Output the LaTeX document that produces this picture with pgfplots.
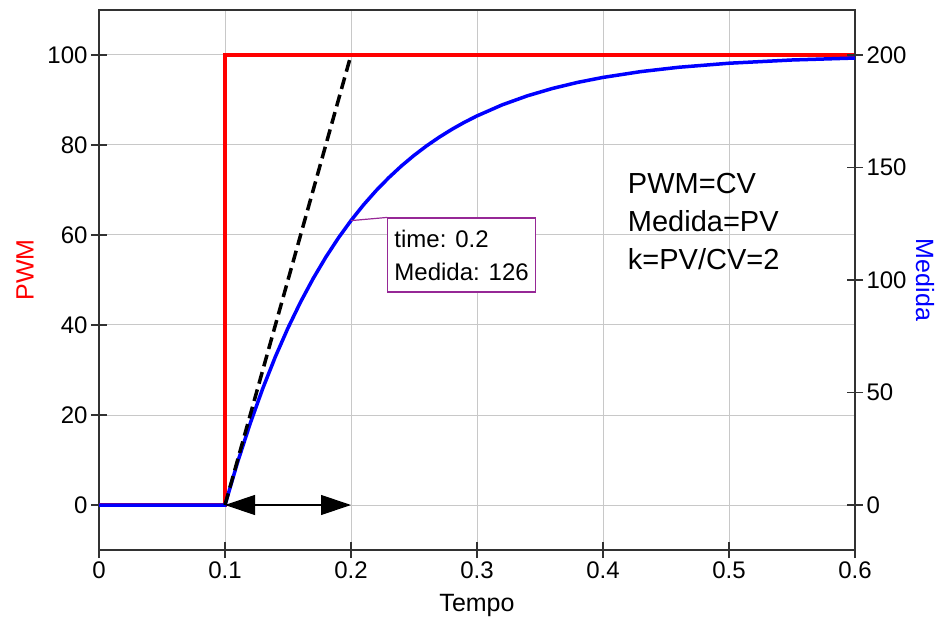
\documentclass[border=0pt]{standalone}
\usepackage{pgfplots}
\pgfplotsset{compat=1.18}
\usepackage{pgfplotstable}
\usepackage{fontspec}
\setmainfont{Liberation Sans}
\usetikzlibrary{arrows.meta}
\definecolor{gridgray}{RGB}{200,200,200}
\definecolor{axgray}{RGB}{50,50,50}
\definecolor{boxpurple}{RGB}{150,40,150}

\pgfplotstableread{
t pv
0 0
0.1 0
0.11 19.03
0.12 36.25
0.13 51.84
0.14 65.94
0.15 78.69
0.16 90.24
0.17 100.68
0.18 110.13
0.19 118.69
0.20 126.42
0.21 133.43
0.22 139.76
0.23 145.49
0.24 150.68
0.25 155.37
0.26 159.62
0.27 163.46
0.28 166.94
0.29 170.09
0.30 172.93
0.32 177.84
0.34 181.86
0.36 185.15
0.38 187.84
0.40 190.04
0.43 192.62
0.46 194.54
0.50 196.34
0.55 197.78
0.60 198.65
}\medida

\begin{document}
\begin{tikzpicture}
\pgfplotsset{
  common/.style={
    width=756pt, height=540pt, scale only axis,
    xmin=0, xmax=0.6,
    tick align=center, major tick length=16pt,
    every tick/.style={axgray, line width=1.2pt},
    axis line style={axgray, line width=1.5pt},
    ticklabel style={font=\fontsize{24}{28}\selectfont, black},
    /pgf/number format/assume math mode=true,
    label style={font=\fontsize{25}{29}\selectfont},
  }
}
\begin{axis}[common,
  ymin=-10, ymax=110,
  ytick={0,20,40,60,80,100},
  xtick={0,0.1,0.2,0.3,0.4,0.5,0.6},
  xticklabels={0,0.1,0.2,0.3,0.4,0.5,0.6},
  xtick pos=bottom, ytick pos=left,
  grid=major, grid style={gridgray, line width=1pt},
  xlabel={Tempo},
  xlabel style={at={(axis description cs:0.5,-0.102)}, anchor=center},
  ylabel={PWM},
  ylabel style={at={(axis description cs:-0.098,0.5185)}, anchor=center, rotate=0, red},
]
\addplot[red, line width=4.5pt, line join=miter] coordinates {(0,0) (0.1,0) (0.1,100) (0.6,100)};
\end{axis}
\begin{axis}[common,
  ymin=-20, ymax=220,
  ytick={0,50,100,150,200},
  axis y line*=right, axis x line=none,
  ylabel={Medida},
  ylabel style={at={(axis description cs:1.0926,0.5)}, anchor=center, rotate=180, blue},
]
\addplot[blue, line width=3.5pt] table[x=t, y=pv] {\medida};
\addplot[black, line width=3.5pt, dash pattern=on 12pt off 6pt] coordinates {(0.1,0) (0.2,200)};
\draw[{Triangle[length=30pt,width=20pt]}-{Triangle[length=30pt,width=20pt]}, line width=1.2pt] (axis cs:0.1,0) -- (axis cs:0.2,0);
\draw[boxpurple, line width=1.2pt] (axis cs:0.2,126.4) -- (axis cs:0.2286,127.8);
\node[draw=boxpurple, fill=white, line width=1.2pt, anchor=north west, minimum width=148pt, minimum height=74pt, inner sep=5pt, align=left, font=\fontsize{24}{33}\selectfont] at (axis cs:0.2286,127.8) {time: 0.2\\Medida: 126};
\node[anchor=base west, font=\fontsize{29}{33}\selectfont] at (axis cs:0.417,138.4) {PWM=CV};
\node[anchor=base west, font=\fontsize{29}{33}\selectfont] at (axis cs:0.417,121.6) {Medida=PV};
\node[anchor=base west, font=\fontsize{29}{33}\selectfont] at (axis cs:0.417,104.6) {k=PV/CV=2};
\end{axis}
\pgfresetboundingbox
\path[use as bounding box] (-99pt,-66pt) rectangle (840pt,550pt);
\end{tikzpicture}
\end{document}
